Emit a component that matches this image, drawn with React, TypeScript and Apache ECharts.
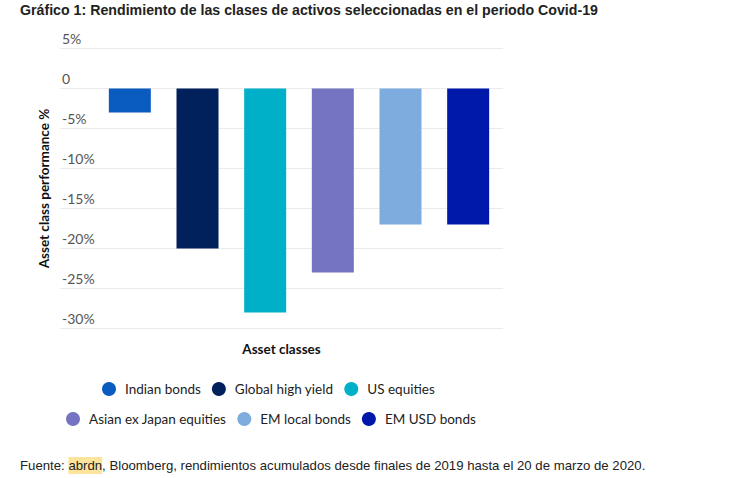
import React, { useEffect, useRef } from "react";
import * as echarts from "echarts";

const titleText = "Gráfico 1: Rendimiento de las clases de activos seleccionadas en el periodo Covid-19";
const categories = [
  "Indian bonds",
  "Global high yield",
  "US equities",
  "Asian ex Japan equities",
  "EM local bonds",
  "EM USD bonds",
];
const values = [-3, -20, -28, -23, -17, -17];
const colors = ["#0a5bc0", "#00215c", "#00afc8", "#7574c2", "#7eacdf", "#0018a9"];
const yMin = -30;
const yMax = 5;
const yStep = 5;
const yAxisName = "Asset class performance %";
const xAxisName = "Asset classes";
const legendRow1 = categories.slice(0, 3);
const legendRow2 = categories.slice(3);

const FONT = "Lato, 'Open Sans', sans-serif";

export default function App() {
  const ref = useRef<HTMLDivElement>(null);
  useEffect(() => {
    if (!ref.current) return;
    document.body.style.margin = "0";
    const chart = echarts.init(ref.current, undefined, { renderer: "svg" });
    const legendCommon = {
      icon: "circle",
      itemWidth: 14,
      itemHeight: 14,
      itemGap: 11,
      orient: "horizontal",
      selectedMode: false,
      textStyle: { fontFamily: FONT, fontSize: 13.5, color: "#222", padding: [0, 0, 0, 4] },
    };
    chart.setOption({
      animation: false,
      backgroundColor: "#ffffff",
      textStyle: { fontFamily: FONT },
      grid: [
        { left: 60, right: 226, top: 48.5, bottom: 149.5 },
        { left: 96, right: 227, top: 48.5, bottom: 149.5 },
      ],
      legend: [
        { ...legendCommon, data: legendRow1, left: 97, top: 377 },
        { ...legendCommon, data: legendRow2, left: 61, top: 407 },
      ],
      xAxis: [
        {
          type: "value",
          gridIndex: 0,
          min: 0,
          max: 1,
          axisLine: { show: false },
          axisTick: { show: false },
          axisLabel: { show: false },
          splitLine: { show: false },
          name: xAxisName,
          nameLocation: "middle",
          nameGap: 13,
          nameTextStyle: { fontFamily: FONT, fontSize: 13.5, fontWeight: "bold", color: "#111" },
        },
        {
          type: "category",
          gridIndex: 1,
          data: categories,
          show: false,
        },
      ],
      yAxis: [
        {
          type: "value",
          gridIndex: 0,
          min: yMin,
          max: yMax,
          interval: yStep,
          axisLine: { show: false },
          axisTick: { show: false },
          splitLine: { lineStyle: { color: "#ebebeb", width: 1 } },
          axisLabel: {
            inside: true,
            margin: 2,
            verticalAlign: "bottom",
            padding: [0, 0, 3, 0],
            fontFamily: FONT,
            fontSize: 14,
            color: "#555",
            formatter: (v: number) => (v === 0 ? "0" : `${v}%`),
          },
          name: yAxisName,
          nameLocation: "middle",
          nameRotate: 90,
          nameGap: 8,
          nameTextStyle: { fontFamily: FONT, fontSize: 13.5, fontWeight: "bold", color: "#111" },
        },
        {
          type: "value",
          gridIndex: 1,
          min: yMin,
          max: yMax,
          interval: yStep,
          show: false,
          splitLine: { show: false },
        },
      ],
      series: categories.map((name, i) => ({
        type: "bar",
        name,
        xAxisIndex: 1,
        yAxisIndex: 1,
        stack: "all",
        barWidth: 42,
        itemStyle: { color: colors[i] },
        data: values.map((v, j) => (j === i ? v : "-")),
      })),
      graphic: [
        {
          type: "text",
          left: 20,
          top: 3,
          style: {
            text: titleText,
            font: "bold 14.2px 'Liberation Sans', Arial, sans-serif",
            fill: "#222",
          },
        },
        {
          type: "text",
          left: 20,
          top: 457,
          style: {
            text: "Fuente: {h|abrdn}, Bloomberg, rendimientos acumulados desde finales de 2019 hasta el 20 de marzo de 2020.",
            font: "13.2px 'Liberation Sans', Arial, sans-serif",
            fill: "#222",
            rich: {
              h: {
                backgroundColor: "#fde49c",
                font: "13.2px 'Liberation Sans', Arial, sans-serif",
                fill: "#222",
                padding: [2, 0, 2, 0],
              },
            },
          },
        },
      ],
    });
    return () => chart.dispose();
  }, []);
  return <div ref={ref} style={{ width: 729, height: 478 }} />;
}
